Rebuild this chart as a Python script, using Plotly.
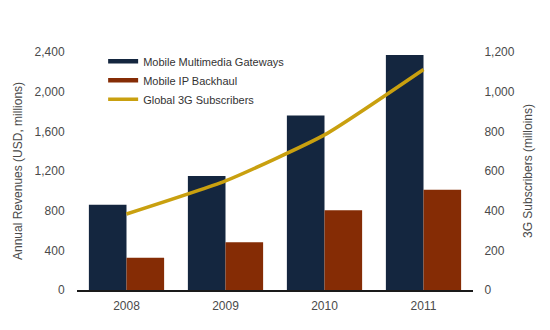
import plotly.graph_objects as go

years = ["2008", "2009", "2010", "2011"]
gateways = [860, 1150, 1760, 2370]
backhaul = [325, 482, 803, 1012]
subscribers = [383, 550, 782, 1112]

left_ticks = [0, 400, 800, 1200, 1600, 2000, 2400]
right_ticks = [0, 200, 400, 600, 800, 1000, 1200]

NAVY = "#14263f"
BROWN = "#852c05"
GOLD = "#c9a00f"
TXT = "#4a4a4a"
FONT = "Liberation Sans, Arial, sans-serif"

fig = go.Figure()
fig.add_trace(go.Bar(x=years, y=gateways, name="Mobile Multimedia Gateways",
                     marker=dict(color=NAVY, line=dict(width=0)), showlegend=False))
fig.add_trace(go.Bar(x=years, y=backhaul, name="Mobile IP Backhaul",
                     marker=dict(color=BROWN, line=dict(width=0)), showlegend=False))
fig.add_trace(go.Scatter(x=years, y=subscribers, name="Global 3G Subscribers", yaxis="y2",
                         mode="lines", line=dict(color=GOLD, width=3.5, shape="spline", smoothing=0.5),
                         showlegend=False))
# legend entries (drawn as thick lines like the reference)
for nm, col, w in [("Mobile Multimedia Gateways", NAVY, 4.5),
                   ("Mobile IP Backhaul", BROWN, 4.5),
                   ("Global 3G Subscribers", GOLD, 3.5)]:
    fig.add_trace(go.Scatter(x=[None], y=[None], mode="lines", name=nm,
                             line=dict(color=col, width=w), hoverinfo="skip"))

fig.update_layout(
    width=550, height=330,
    margin=dict(l=77, r=77, t=52, b=40),
    paper_bgcolor="white", plot_bgcolor="white",
    font=dict(family=FONT, size=12, color=TXT),
    barmode="group", bargap=0.24, bargroupgap=0,
    showlegend=True,
    legend=dict(x=0.066, y=1.022, xanchor="left", yanchor="top",
                bgcolor="rgba(0,0,0,0)", font=dict(size=11, color="#333"),
                tracegroupgap=0, traceorder="normal"),
    xaxis=dict(type="category", range=[-0.5, 3.5], showgrid=False, showline=True,
               linecolor="#1a1a1a", linewidth=1.5, ticks="outside", ticklen=4,
               tickcolor="rgba(0,0,0,0)", zeroline=False, fixedrange=True),
    yaxis=dict(range=[0, 2400], tickvals=left_ticks, tickformat=",", showgrid=False,
               zeroline=False, showline=False, ticks="outside", ticklen=9,
               tickcolor="rgba(0,0,0,0)"),
    yaxis2=dict(range=[0, 1200], tickvals=right_ticks, tickformat=",", overlaying="y",
                side="right", showgrid=False, zeroline=False, showline=False,
                ticks="outside", ticklen=8, tickcolor="rgba(0,0,0,0)"),
    annotations=[
        dict(text="Annual Revenues (USD, millions)", xref="paper", yref="paper",
             x=(18 - 77) / 396, y=0.5, xanchor="center", yanchor="middle",
             textangle=-90, showarrow=False, font=dict(size=12, color=TXT)),
        dict(text="3G Subscribers (milloins)", xref="paper", yref="paper",
             x=(528 - 77) / 396, y=0.5, xanchor="center", yanchor="middle",
             textangle=-90, showarrow=False, font=dict(size=12, color=TXT)),
    ],
)

fig.write_html("out.html")
